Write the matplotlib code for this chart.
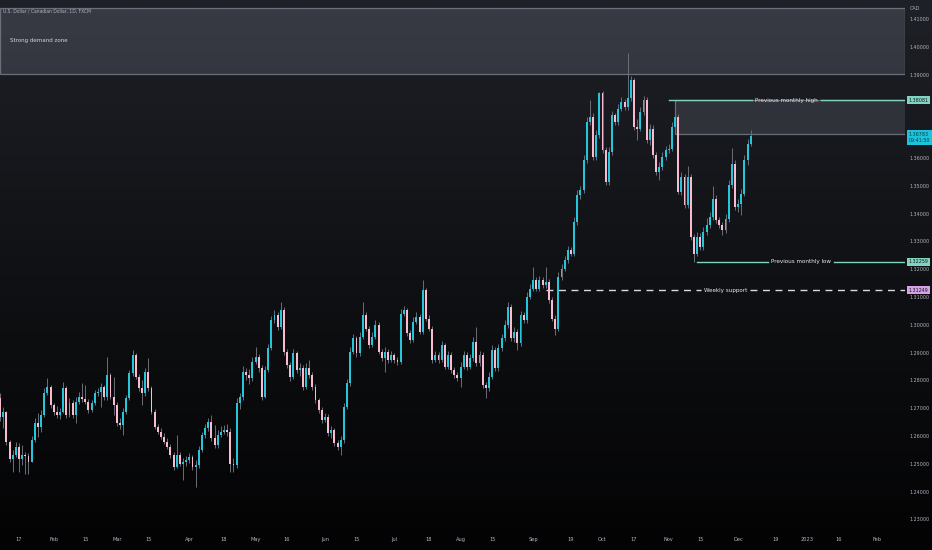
import numpy as np
import pandas as pd
import matplotlib
matplotlib.use("Agg")
import matplotlib.pyplot as plt
from matplotlib.patches import Rectangle
from matplotlib.colors import LinearSegmentedColormap
from matplotlib import font_manager

# ---------------- data (daily USD/CAD candles) ----------------
start_date = "2022-01-07"
first_open = 1.2736
closes = [
    1.2668, 1.2687, 1.2579, 1.2519, 1.2531, 1.2561, 1.2519, 1.2531, 1.2527, 1.2507,
    1.2585, 1.2645, 1.2633, 1.2675, 1.2753, 1.2777, 1.2711, 1.2687, 1.2675, 1.2687,
    1.2771, 1.2675, 1.2717, 1.2675, 1.2723, 1.2741, 1.2732, 1.2723, 1.2693, 1.2717,
    1.2753, 1.2759, 1.2777, 1.2741, 1.2819, 1.2741, 1.2711, 1.2645, 1.2639, 1.2687,
    1.2735, 1.2825, 1.2891, 1.2813, 1.2771, 1.2753, 1.2831, 1.2771, 1.2687, 1.2633,
    1.2615, 1.2597, 1.2579, 1.2561, 1.2531, 1.2489, 1.2531, 1.2501, 1.2507, 1.2513,
    1.2525, 1.2489, 1.2495, 1.2549, 1.2603, 1.2627, 1.2651, 1.2592, 1.2567, 1.2603,
    1.2615, 1.2621, 1.2614, 1.2501, 1.2495, 1.2717, 1.2741, 1.2831, 1.2819, 1.2807,
    1.2867, 1.2885, 1.2843, 1.2741, 1.2837, 1.2915, 1.3016, 1.3034, 1.2992, 1.3052,
    1.2903, 1.2855, 1.2813, 1.2897, 1.2837, 1.2843, 1.2777, 1.2843, 1.2819, 1.2777,
    1.2729, 1.2693, 1.2657, 1.2669, 1.2609, 1.2621, 1.2573, 1.2561, 1.2585, 1.2705,
    1.2789, 1.2903, 1.2951, 1.2897, 1.2957, 1.3034, 1.2986, 1.2927, 1.2957, 1.2998,
    1.2903, 1.2879, 1.2903, 1.2873, 1.2891, 1.2873, 1.2867, 1.3040, 1.3052, 1.2969,
    1.2945, 1.3010, 1.3028, 1.2975, 1.3124, 1.3022, 1.2986, 1.2873, 1.2891, 1.2873,
    1.2927, 1.2849, 1.2891, 1.2837, 1.2819, 1.2807, 1.2849, 1.2891, 1.2849, 1.2879,
    1.2939, 1.2861, 1.2891, 1.2783, 1.2771, 1.2813, 1.2909, 1.2843, 1.2915, 1.2951,
    1.2998, 1.3064, 1.2951, 1.2975, 1.2933, 1.3034, 1.3016, 1.3100, 1.3130, 1.3160,
    1.3130, 1.3160, 1.3142, 1.3154, 1.3088, 1.3022, 1.2986, 1.3172, 1.3202, 1.3232,
    1.3268, 1.3256, 1.3370, 1.3466, 1.3484, 1.3592, 1.3730, 1.3748, 1.3604, 1.3682,
    1.3832, 1.3628, 1.3514, 1.3622, 1.3754, 1.3729, 1.3778, 1.3802, 1.3784, 1.3814,
    1.3880, 1.3712, 1.3706, 1.3766, 1.3808, 1.3664, 1.3706, 1.3610, 1.3550, 1.3568,
    1.3604, 1.3628, 1.3634, 1.3712, 1.3748, 1.3478, 1.3532, 1.3430, 1.3532, 1.3316,
    1.3256, 1.3316, 1.3280, 1.3334, 1.3358, 1.3388, 1.3454, 1.3376, 1.3358, 1.3340,
    1.3382, 1.3502, 1.3580, 1.3424, 1.3436, 1.3472, 1.3592, 1.3652, 1.36783,
]
highs = [
    1.2754, 1.2705, 1.2690, 1.2585, 1.2549, 1.2578, 1.2574, 1.2567, 1.2542, 1.2538,
    1.2599, 1.2664, 1.2681, 1.2693, 1.2772, 1.2807, 1.2783, 1.2718, 1.2707, 1.2700,
    1.2795, 1.2779, 1.2736, 1.2729, 1.2740, 1.2758, 1.2789, 1.2783, 1.2733, 1.2729,
    1.2765, 1.2772, 1.2790, 1.2783, 1.2885, 1.2825, 1.2813, 1.2722, 1.2664, 1.2700,
    1.2747, 1.2837, 1.2909, 1.2898, 1.2823, 1.2801, 1.2844, 1.2879, 1.2779, 1.2697,
    1.2643, 1.2628, 1.2610, 1.2592, 1.2571, 1.2542, 1.2603, 1.2542, 1.2520, 1.2527,
    1.2538, 1.2531, 1.2513, 1.2563, 1.2614, 1.2643, 1.2664, 1.2675, 1.2639, 1.2621,
    1.2635, 1.2639, 1.2643, 1.2628, 1.2520, 1.2736, 1.2754, 1.2851, 1.2844, 1.2841,
    1.2884, 1.2921, 1.2895, 1.2855, 1.2851, 1.2931, 1.3030, 1.3052, 1.3045, 1.3082,
    1.3063, 1.2913, 1.2866, 1.2913, 1.2905, 1.2862, 1.2855, 1.2862, 1.2873, 1.2830,
    1.2787, 1.2736, 1.2704, 1.2682, 1.2679, 1.2635, 1.2628, 1.2585, 1.2599, 1.2718,
    1.2805, 1.2920, 1.2967, 1.2959, 1.2974, 1.3082, 1.3045, 1.2994, 1.2974, 1.3016,
    1.3009, 1.2913, 1.2920, 1.2913, 1.2905, 1.2898, 1.2884, 1.3056, 1.3066, 1.3059,
    1.2980, 1.3027, 1.3045, 1.3038, 1.3160, 1.3131, 1.3034, 1.2994, 1.2905, 1.2902,
    1.2941, 1.2934, 1.2905, 1.2902, 1.2848, 1.2830, 1.2866, 1.2905, 1.2902, 1.2895,
    1.2956, 1.2992, 1.2905, 1.2902, 1.2794, 1.2830, 1.2927, 1.2920, 1.2931, 1.2967,
    1.3016, 1.3081, 1.3074, 1.2991, 1.2984, 1.3048, 1.3045, 1.3117, 1.3146, 1.3208,
    1.3171, 1.3174, 1.3171, 1.3208, 1.3164, 1.3099, 1.3034, 1.3189, 1.3218, 1.3246,
    1.3282, 1.3279, 1.3387, 1.3484, 1.3498, 1.3610, 1.3747, 1.3808, 1.3761, 1.3700,
    1.3837, 1.3840, 1.3639, 1.3639, 1.3768, 1.3761, 1.3794, 1.3819, 1.3812, 1.3976,
    1.3894, 1.3887, 1.3740, 1.3783, 1.3822, 1.3819, 1.3722, 1.3718, 1.3621, 1.3585,
    1.3621, 1.3642, 1.3650, 1.3729, 1.38081, 1.3758, 1.3549, 1.3542, 1.3570, 1.3542,
    1.3326, 1.3333, 1.3329, 1.3351, 1.3383, 1.3405, 1.3498, 1.3466, 1.3387, 1.3369,
    1.3398, 1.3520, 1.3635, 1.3592, 1.3452, 1.3488, 1.3610, 1.3668, 1.3700,
]
lows = [
    1.2653, 1.2628, 1.2567, 1.2506, 1.2471, 1.2524, 1.2471, 1.2495, 1.2465, 1.2465,
    1.2506, 1.2578, 1.2597, 1.2614, 1.2668, 1.2747, 1.2700, 1.2675, 1.2664, 1.2661,
    1.2682, 1.2664, 1.2668, 1.2664, 1.2645, 1.2715, 1.2722, 1.2715, 1.2682, 1.2686,
    1.2711, 1.2743, 1.2705, 1.2729, 1.2729, 1.2733, 1.2675, 1.2635, 1.2625, 1.2603,
    1.2679, 1.2729, 1.2815, 1.2805, 1.2761, 1.2711, 1.2743, 1.2761, 1.2679, 1.2625,
    1.2607, 1.2589, 1.2571, 1.2553, 1.2520, 1.2477, 1.2484, 1.2491, 1.2441, 1.2491,
    1.2502, 1.2477, 1.2417, 1.2484, 1.2542, 1.2592, 1.2617, 1.2581, 1.2556, 1.2556,
    1.2596, 1.2607, 1.2599, 1.2471, 1.2470, 1.2484, 1.2697, 1.2729, 1.2801, 1.2787,
    1.2797, 1.2859, 1.2830, 1.2729, 1.2736, 1.2830, 1.2909, 1.3005, 1.2980, 1.2984,
    1.2891, 1.2844, 1.2797, 1.2805, 1.2826, 1.2815, 1.2765, 1.2769, 1.2808, 1.2765,
    1.2718, 1.2682, 1.2646, 1.2650, 1.2599, 1.2592, 1.2563, 1.2549, 1.2531, 1.2574,
    1.2697, 1.2779, 1.2895, 1.2884, 1.2887, 1.2949, 1.2977, 1.2916, 1.2920, 1.2949,
    1.2895, 1.2869, 1.2831, 1.2862, 1.2866, 1.2862, 1.2855, 1.2859, 1.3030, 1.2959,
    1.2934, 1.2938, 1.3002, 1.2967, 1.2967, 1.3012, 1.2977, 1.2862, 1.2866, 1.2862,
    1.2866, 1.2841, 1.2841, 1.2826, 1.2808, 1.2797, 1.2777, 1.2841, 1.2837, 1.2841,
    1.2869, 1.2851, 1.2851, 1.2772, 1.2735, 1.2761, 1.2805, 1.2833, 1.2833, 1.2905,
    1.2941, 1.2987, 1.2941, 1.2938, 1.2909, 1.2923, 1.3005, 1.3005, 1.3092, 1.3120,
    1.3120, 1.3120, 1.3131, 1.3131, 1.3077, 1.3012, 1.2963, 1.2977, 1.3160, 1.3192,
    1.3221, 1.3246, 1.3246, 1.3358, 1.3452, 1.3473, 1.3581, 1.3718, 1.3592, 1.3592,
    1.3671, 1.3617, 1.3502, 1.3502, 1.3610, 1.3718, 1.3718, 1.3768, 1.3772, 1.3772,
    1.3804, 1.3700, 1.3664, 1.3696, 1.3754, 1.3653, 1.3646, 1.3599, 1.3538, 1.3520,
    1.3556, 1.3592, 1.3617, 1.3624, 1.3700, 1.3470, 1.3466, 1.3419, 1.3419, 1.3304,
    1.32259, 1.3246, 1.3268, 1.3268, 1.3322, 1.3347, 1.3376, 1.3365, 1.3347, 1.3322,
    1.3329, 1.3369, 1.3491, 1.3412, 1.3405, 1.3394, 1.3462, 1.3574, 1.3642,
]

tick_dates = ["2022-01-17", "2022-02-01", "2022-02-15", "2022-03-01", "2022-03-15",
              "2022-04-01", "2022-04-18", "2022-05-02", "2022-05-16", "2022-06-01",
              "2022-06-15", "2022-07-01", "2022-07-18", "2022-08-01", "2022-08-15",
              "2022-09-01", "2022-09-19", "2022-10-03", "2022-10-17", "2022-11-01",
              "2022-11-15", "2022-12-01", "2022-12-19", "2023-01-02", "2023-01-16",
              "2023-02-01"]
tick_labels = ["17", "Feb", "15", "Mar", "15", "Apr", "18", "May", "16", "Jun", "15",
               "Jul", "18", "Aug", "15", "Sep", "19", "Oct", "17", "Nov", "15", "Dec",
               "19", "2023", "16", "Feb"]
price_ticks = [1.23, 1.24, 1.25, 1.26, 1.27, 1.28, 1.29, 1.30, 1.31, 1.32, 1.33, 1.34,
               1.35, 1.36, 1.37, 1.38, 1.39, 1.40, 1.41]

title = "U.S. Dollar / Canadian Dollar, 1D, FXCM"
currency = "CAD"
zone_label = "Strong demand zone"
zone_low, zone_high = 1.3902, 1.4140
monthly_high = 1.38081
monthly_high_box_low = 1.3687
monthly_high_start = "2022-11-01"
monthly_high_box_start = "2022-11-03"
monthly_low = 1.32259
monthly_low_start = "2022-11-14"
weekly_support = 1.31249
weekly_support_start = "2022-09-07"
last_price = 1.36783
countdown = "09:41:50"

# ---------------- styling ----------------
W, H = 932, 550
BAR_PX = 3.154
AX_RIGHT_PX = 905
AX_BOTTOM_PX = 530
C_UP = "#26c6da"
C_DN = "#f8bbd0"
C_WICK = "#6a6e79"
C_MINT = "#80d4c0"
C_VIOLET = "#d6a1e6"
C_CYAN = "#1cc3dc"
C_TXT = "#b2b5be"

names = {f.name for f in font_manager.fontManager.ttflist}
has_dv_cond = any(f.name == "DejaVu Sans" and f.stretch == "condensed"
                  for f in font_manager.fontManager.ttflist)
if "Liberation Sans Narrow" in names:
    FK = dict(family="Liberation Sans Narrow")
    S = 1.0
elif has_dv_cond:
    FK = dict(family="DejaVu Sans", fontstretch="condensed")
    S = 0.88
else:
    FK = dict(family="DejaVu Sans")
    S = 0.75

# ---------------- derived ----------------
n = len(closes)
c = np.array(closes)
o = np.array([first_open] + closes[:-1])
h = np.maximum(np.array(highs), np.maximum(o, c))
l = np.minimum(np.array(lows), np.minimum(o, c))
x = np.arange(n)
cal = pd.bdate_range(start_date, "2023-03-31")


def pos(d):
    return cal.get_loc(pd.Timestamp(d))


fig = plt.figure(figsize=(W / 100, H / 100), dpi=100)
bg = fig.add_axes([0, 0, 1, 1], zorder=0)
grad = np.linspace(0, 1, 256).reshape(-1, 1)
cmap = LinearSegmentedColormap.from_list("bg", ["#030304", "#101114", "#1f2128"])
bg.imshow(grad, aspect="auto", cmap=cmap, origin="lower", extent=[0, 1, 0, 1])
bg.set_axis_off()

ax = fig.add_axes([0, (H - AX_BOTTOM_PX) / H, AX_RIGHT_PX / W, AX_BOTTOM_PX / H], zorder=1)
ax.set_facecolor("none")
for s in ax.spines.values():
    s.set_visible(False)

xmin = -0.03
xmax = xmin + AX_RIGHT_PX / BAR_PX
px_per_price = 2780.0
ytop = 1.41683
ybot = ytop - AX_BOTTOM_PX / px_per_price
ax.set_xlim(xmin, xmax)
ax.set_ylim(ybot, ytop)
ax.set_autoscale_on(False)

# candles
up = c >= o
colors = np.where(up, C_UP, C_DN)
ax.vlines(x, l, h, color=C_WICK, lw=0.7, zorder=3)
ax.bar(x, np.maximum(np.abs(c - o), 0.00025), bottom=np.minimum(o, c), width=0.62,
       color=colors, linewidth=0, zorder=4)

# demand zone
ax.add_patch(Rectangle((0, zone_low), 1, zone_high - zone_low, transform=ax.get_yaxis_transform(),
                       fc=(0.47, 0.49, 0.55, 0.28), ec=(0.6, 0.62, 0.67, 0.6), lw=0.9, zorder=2))
ax.text(10 / AX_RIGHT_PX, (zone_low + zone_high) / 2, zone_label, transform=ax.get_yaxis_transform(),
        ha="left", va="center", color="#d1d4dc", fontsize=5.0 * S, zorder=6, **FK)

# monthly high box
bx0 = pos(monthly_high_box_start) - pos(start_date)
ax.add_patch(Rectangle((bx0, monthly_high_box_low), xmax - bx0 + 1, monthly_high - monthly_high_box_low,
                       fc=(0.47, 0.49, 0.55, 0.25), ec=(0.6, 0.62, 0.67, 0.6), lw=0.9, zorder=2))

fig.canvas.draw()
gap = 3.0 / BAR_PX


def level_line(start, level, label, color, ls, z):
    x0 = pos(start) - pos(start_date)
    xm = (x0 + xmax) / 2
    t = ax.text(xm, level, label, ha="center", va="center", color="#e8eaef",
                fontsize=5.1 * S, zorder=7, **FK)
    fig.canvas.draw()
    bb = t.get_window_extent().transformed(ax.transData.inverted())
    ax.plot([x0, bb.x0 - gap], [level, level], color=color, lw=1.0, ls=ls, zorder=z)
    ax.plot([bb.x1 + gap, xmax + 1], [level, level], color=color, lw=1.0, ls=ls, zorder=z)


level_line(monthly_high_start, monthly_high, "Previous monthly high", C_MINT, "-", 5)
level_line(monthly_low_start, monthly_low, "Previous monthly low", C_MINT, "-", 5)
level_line(weekly_support_start, weekly_support, "Weekly support", "#d8dae0", (0, (5, 4)), 2.5)

# axes ticks (labels hidden under a scale label are left out, as in the reference)
covered = [monthly_high, last_price]
ax.yaxis.tick_right()
ax.set_yticks(price_ticks)
ax.set_yticklabels([("" if any(abs(v - cv) < 0.0045 for cv in covered) else f"{v:.5f}")
                    for v in price_ticks], **FK)
ax.tick_params(axis="y", length=0, pad=3.2, labelsize=4.4 * S, labelcolor=C_TXT)
tick_pos = [pos(d) - pos(start_date) for d in tick_dates]
ax.set_xticks(tick_pos)
ax.set_xticklabels(tick_labels, **FK)
ax.tick_params(axis="x", length=0, pad=5, labelsize=4.6 * S, labelcolor=C_TXT)

# price labels on the scale
tr = ax.get_yaxis_transform()
box = dict(boxstyle="square,pad=0.3", ec="none")
for lvl, col in [(monthly_high, C_MINT), (monthly_low, C_MINT), (weekly_support, C_VIOLET)]:
    ax.annotate(f"{lvl:.5f}", xy=(1.0, lvl), xycoords=tr, xytext=(2.6, 0), textcoords="offset points",
                ha="left", va="center", fontsize=4.4 * S, color="#131722",
                bbox=dict(box, fc=col), zorder=10, annotation_clip=False, **FK)
ax.annotate(f"{last_price:.5f}\n{countdown}", xy=(1.0, last_price), xycoords=tr, xytext=(2.6, 3.0),
            textcoords="offset points", ha="left", va="top", fontsize=4.4 * S, color="#0d3b44",
            linespacing=1.3, bbox=dict(box, fc=C_CYAN), zorder=10, annotation_clip=False, **FK)

fig.text(910 / W, 1 - 8 / H, currency, ha="left", va="center", fontsize=4.4 * S, color=C_TXT, **FK)
fig.text(3 / W, 1 - 11 / H, title, ha="left", va="center", fontsize=4.1 * S, color=C_TXT, **FK)

fig.savefig("out.png", dpi=100)
